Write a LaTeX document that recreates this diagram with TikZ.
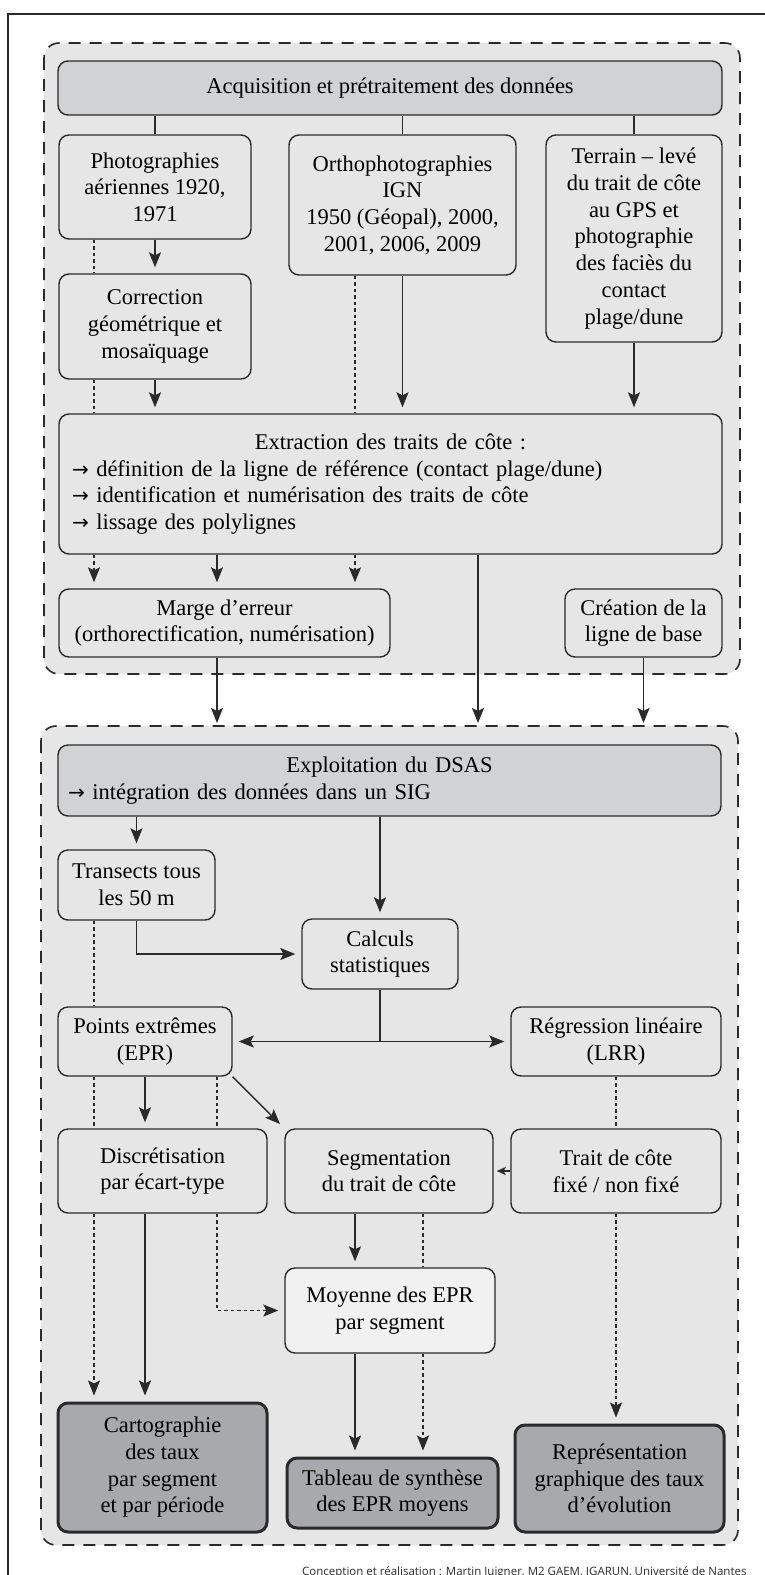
\documentclass[tikz,border=0pt]{standalone}
\usepackage{fontspec}
\setmainfont{Liberation Serif}
\newfontfamily\creditfamily{Open Sans}
\newfontfamily\arrowfamily{DejaVu Sans}
\usetikzlibrary{arrows.meta}
\definecolor{ink}{HTML}{2A2A2A}
\definecolor{grpbg}{HTML}{E6E6E6}
\definecolor{headbg}{HTML}{D1D2D3}
\definecolor{endbg}{HTML}{A7A9AC}
\definecolor{lightbg}{HTML}{F1F1F2}
\newcommand{\boxfont}{\fontsize{22.5}{26.7}\selectfont}
\newcommand{\creditfont}{\creditfamily\fontsize{11.5}{13}\selectfont}
\newcommand{\bul}{{\arrowfamily\fontsize{20}{20}\selectfont →}\ }
\begin{document}
\begin{tikzpicture}[x=1pt,y=-1pt,
    box/.style={draw=ink,line width=1.4pt,rounded corners=10pt,fill=grpbg,
      align=center,inner sep=0pt,font=\boxfont},
    headbox/.style={box,fill=headbg},
    endbox/.style={box,fill=endbg,line width=3pt},
    lightbox/.style={box,fill=lightbg},
    grp/.style={draw=ink,fill=grpbg,line width=1.6pt,
      dash pattern=on 12pt off 9pt,rounded corners=15pt},
    ln/.style={draw=ink,line width=1.4pt},
    arr/.style={ln,shorten >=6pt,-{Stealth[length=15pt,width=12pt,inset=3pt]}},
    smallarr/.style={ln,shorten >=3pt,-{Stealth[length=9pt,width=8pt,inset=2pt]}},
    dot/.style={draw=ink,line width=1.3pt,dash pattern=on 3.5pt off 3pt},
    dotarr/.style={dot,shorten >=6pt,-{Stealth[length=15pt,width=12pt,inset=3pt]}}]
  \clip (0,0) rectangle (765,1575);
  \fill[white] (0,0) rectangle (765,1575);
  \draw[ink,line width=1.2pt] (8,1600) -- (8,14) -- (800,14);
  \draw[grp] (44,43) rectangle (740,674);
  \draw[grp] (41,726) rectangle (738,1545);

  \coordinate (colA) at (94,0);
  \coordinate (colB) at (217,0);
  \coordinate (colC) at (355,0);
  \coordinate (colD) at (423,0);
  \coordinate (colE) at (478,0);
  \coordinate (g2) at (0,729);

  \node[headbox,minimum width=664,minimum height=54] (acq) at (390,88)
    {Acquisition et prétraitement des données};
  \node[box,minimum width=192,minimum height=104] (photo) at (155,187)
    {Photographies\\aériennes 1920,\\1971};
  \node[box,minimum width=227,minimum height=140] (ortho) at (402.5,205)
    {Orthophotographies\\IGN\\1950 (Géopal), 2000,\\2001, 2006, 2009};
  \node[box,minimum width=176,minimum height=207] (terrain) at (634,238.5)
    {Terrain – levé\\du trait de côte\\au GPS et\\photographie\\des faciès du\\contact\\plage/dune};
  \node[box,minimum width=192,minimum height=105] (corr) at (155,326.5)
    {Correction\\géométrique et\\mosaïquage};
  \node[box,minimum width=663,minimum height=140,text width=637,align=left] (extr) at (390.5,484)
    {\makebox[\linewidth]{Extraction des traits de côte :}\\
     \bul définition de la ligne de référence (contact plage/dune)\\
     \bul identification et numérisation des traits de côte\\
     \bul lissage des polylignes};
  \node[box,minimum width=331,minimum height=68] (marge) at (224.5,623)
    {Marge d’erreur\\(orthorectification, numérisation)};
  \node[box,minimum width=157,minimum height=68] (crea) at (643.5,623)
    {Création de la\\ligne de base};

  \node[headbox,minimum width=663,minimum height=71,text width=643,align=left] (expl) at (389.5,780.5)
    {\makebox[\linewidth]{Exploitation du DSAS}\\
     \bul intégration des données dans un SIG};
  \node[box,minimum width=157,minimum height=70] (trans) at (136.5,885)
    {Transects tous\\les 50 m};
  \node[box,minimum width=156,minimum height=70] (calc) at (380,954)
    {Calculs\\statistiques};
  \node[box,minimum width=174,minimum height=69] (points) at (145,1041.5)
    {Points extrêmes\\(EPR)};
  \node[box,minimum width=210,minimum height=69] (regr) at (616,1041.5)
    {Régression linéaire\\(LRR)};
  \node[box,minimum width=209,minimum height=84] (discr) at (162.5,1171)
    {Discrétisation\\par écart-type};
  \node[box,minimum width=208,minimum height=84] (segm) at (389,1171)
    {Segmentation\\du trait de côte};
  \node[box,minimum width=210,minimum height=84] (trait) at (616,1171)
    {Trait de côte\\fixé / non fixé};
  \node[lightbox,minimum width=210,minimum height=85] (moy) at (390,1310.5)
    {Moyenne des EPR\\par segment};
  \node[endbox,minimum width=209,minimum height=129] (carto) at (162.5,1467.5)
    {Cartographie\\des taux\\par segment\\et par période};
  \node[endbox,minimum width=211,minimum height=70] (tabl) at (392.5,1493)
    {Tableau de synthèse\\des EPR moyens};
  \node[endbox,minimum width=209,minimum height=107] (repr) at (619.5,1478.5)
    {Représentation\\graphique des taux\\d’évolution};

  \node[anchor=base west,inner sep=0pt,font=\creditfont,text=ink] (credit) at (302,1575)
    {Conception et réalisation : Martin Juigner, M2 GAEM, IGARUN, Université de Nantes};

  \begin{scope}
    \draw[ln] (acq.south -| photo.north) -- (photo.north);
    \draw[ln] (acq.south -| ortho.north) -- (ortho.north);
    \draw[ln] (acq.south -| terrain.north) -- (terrain.north);
    \draw[arr] (photo.south) -- (corr.north);
    \draw[dot] (photo.south -| colA) -- (corr.north -| colA);
    \draw[dot] (corr.south -| colA) -- (extr.north -| colA);
    \draw[arr] (corr.south) -- (extr.north -| corr.south);
    \draw[dot] (ortho.south -| colC) -- (extr.north -| colC);
    \draw[arr] (ortho.south) -- (extr.north -| ortho.south);
    \draw[arr] (terrain.south) -- (extr.north -| terrain.south);
    \draw[dotarr] (extr.south -| colA) -- (marge.north -| colA);
    \draw[arr] (extr.south -| colB) -- (marge.north -| colB);
    \draw[dotarr] (extr.south -| colC) -- (marge.north -| colC);
    \draw[arr] (marge.south -| colB) -- (colB |- g2);
    \draw[arr] (extr.south -| colE) -- (colE |- g2);
    \draw[arr] (crea.south) -- (crea.south |- g2);
  \end{scope}
  \begin{scope}
    \draw[arr] (expl.south -| trans.north) -- (trans.north);
    \draw[arr] (expl.south -| calc.north) -- (calc.north);
    \draw[arr] (trans.south) |- (calc.west);
    \draw[dot] (trans.south -| colA) -- (points.north -| colA);
    \draw[ln] (calc.south) -- (calc.south |- points.east);
    \draw[arr] (calc.south |- points.east) -- (points.east);
    \draw[arr] (calc.south |- regr.west) -- (regr.west);
    \draw[arr] (points.south) -- (discr.north -| points.south);
    \draw[arr] (points.south east) -- (segm.north west);
    \draw[dot] (points.south -| colA) -- (discr.north -| colA);
    \draw[dot] (points.south -| colB) -- (discr.north -| colB);
    \draw[dot] (regr.south) -- (trait.north);
    \draw[smallarr] (trait.west) -- (segm.east);
    \draw[dotarr] (discr.south -| colA) -- (carto.north -| colA);
    \draw[arr] (discr.south -| points.south) -- (carto.north -| points.south);
    \draw[dotarr] (discr.south -| colB) |- (moy.west);
    \draw[arr] (segm.south -| colC) -- (moy.north -| colC);
    \draw[dot] (segm.south -| colD) -- (moy.north -| colD);
    \draw[arr] (moy.south -| colC) -- (tabl.north -| colC);
    \draw[dotarr] (moy.south -| colD) -- (tabl.north -| colD);
    \draw[dotarr] (trait.south) -- (repr.north -| trait.south);
  \end{scope}
\end{tikzpicture}
\end{document}
